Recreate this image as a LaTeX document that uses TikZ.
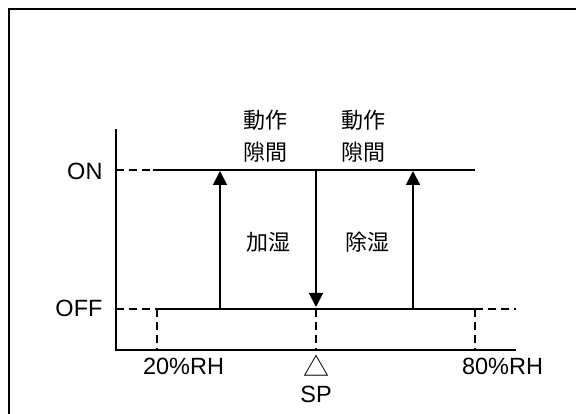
\documentclass[tikz,border=0pt]{standalone}
\usepackage{fontspec}
\setmainfont{Liberation Sans}
\newfontfamily\jfont{Noto Sans CJK JP}
\usetikzlibrary{arrows.meta}
\begin{document}
\begin{tikzpicture}[x=1pt, y=-1pt, font=\fontsize{23.5}{28}\selectfont,
		axis/.style = {line width=2pt},
		level/.style = {line width=1.8pt},
		guide/.style = {line width=1.8pt, dash pattern=on 8pt off 5pt},
		switch/.style = {line width=1.8pt, -{Triangle[length=14pt, width=14pt]}},
		jtext/.style = {font=\jfont\fontsize{22}{32}\selectfont, align=center, inner sep=0pt}]
		\useasboundingbox (0, 0) rectangle (576, 414);
		\draw[line width=2pt] (9, 420) -- (9, 9) -- (580, 9);
		% points of the plot
		\coordinate (top) at (116, 129);
		\coordinate (origin) at (116, 350);
		\coordinate (xend) at (516, 350);
		\coordinate (onL) at (116, 170);
		\coordinate (onS) at (153, 170);
		\coordinate (onR) at (475, 170);
		\coordinate (offL) at (116, 309);
		\coordinate (lo) at (157, 309);
		\coordinate (hi) at (475, 309);
		\coordinate (offR) at (516, 309);
		\coordinate (loX) at (157, 350);
		\coordinate (spOff) at (316, 309);
		\coordinate (spX) at (316, 350);
		\coordinate (hiX) at (475, 350);
		% axes
		\draw[axis] (top) -- (origin) -- (xend);
		% ON / OFF levels
		\draw[guide] (onL) -- (onS);
		\draw[level] (onS) -- (onR);
		\draw[guide] (offL) -- (lo);
		\draw[level] (lo) -- (hi);
		\draw[guide] (hi) -- (offR);
		\draw[guide] (lo) -- (loX);
		\draw[guide] (spOff) -- (spX);
		\draw[guide] (hi) -- (hiX);
		% switching
		\coordinate (upA0) at (220, 309);
		\coordinate (upA1) at (220, 171);
		\coordinate (dn0) at (316, 170);
		\coordinate (dn1) at (316, 307);
		\coordinate (upB0) at (413, 309);
		\coordinate (upB1) at (413, 171);
		\draw[switch] (upA0) -- (upA1);
		\draw[switch] (dn0) -- (dn1);
		\draw[switch] (upB0) -- (upB1);
		% labels
		\node[anchor=east] (on) at (106, 171) {ON};
		\node[anchor=east] (off) at (106, 308.5) {OFF};
		\node[jtext] (gapA) at (265, 136) {動作\\隙間};
		\node[jtext] (gapB) at (363, 136) {動作\\隙間};
		\node[jtext] (hum) at (268, 242) {加湿};
		\node[jtext] (dehum) at (367, 242) {除湿};
		\node (low) at (183.5, 366) {20\%RH};
		\node (high) at (502.5, 366) {80\%RH};
		\node[inner sep=0pt, font=\jfont\fontsize{26}{26}\selectfont] (mark) at (316, 366) {△};
		\node (sp) at (316, 394) {SP};
	\end{tikzpicture}
\end{document}
